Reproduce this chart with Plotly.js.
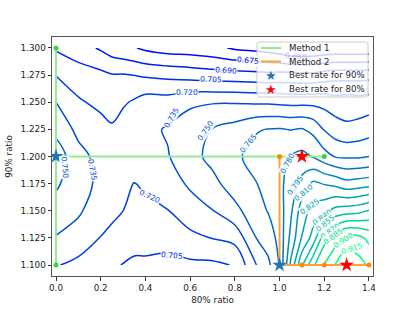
<!DOCTYPE html>
<html>
<head>
<meta charset="utf-8">
<script src="https://cdn.plot.ly/plotly-3.0.1.min.js"></script>
<style>
html,body{margin:0;padding:0;background:#fff;}
#chart{width:415px;height:311px;}
</style>
</head>
<body>
<div id="chart"></div>
<script>
// grid of the 80% ratio (x) and 90% ratio (y)
const ratio80 = [0, 0.1, 0.2, 0.25, 0.3, 0.35, 0.4, 0.5, 0.6, 0.7, 0.8, 0.9, 0.95, 1.0, 1.05, 1.1, 1.15, 1.2, 1.25, 1.3, 1.35, 1.4];
const ratio90 = [1.1, 1.125, 1.15, 1.175, 1.2, 1.225, 1.25, 1.275, 1.3];

// rate values, one array per 90% ratio row
const rate_1100 = [0.721, 0.716, 0.710, 0.707, 0.7045, 0.703, 0.702, 0.700, 0.702, 0.702, 0.706, 0.736, 0.747, 0.766, 0.813, 0.853, 0.882, 0.901, 0.916, 0.926, 0.921, 0.913];
const rate_1125 = [0.734, 0.729, 0.7195, 0.716, 0.713, 0.709, 0.711, 0.711, 0.716, 0.7205, 0.725, 0.751, 0.757, 0.770, 0.799, 0.826, 0.846, 0.879, 0.892, 0.906, 0.905, 0.896];
const rate_1150 = [0.745, 0.737, 0.727, 0.7235, 0.720, 0.714, 0.716, 0.7195, 0.729, 0.7345, 0.746, 0.759, 0.766, 0.773, 0.792, 0.818, 0.830, 0.836, 0.845, 0.848, 0.850, 0.856];
const rate_1175 = [0.752, 0.742, 0.731, 0.729, 0.726, 0.7195, 0.7225, 0.729, 0.737, 0.746, 0.757, 0.765, 0.771, 0.776, 0.787, 0.800, 0.813, 0.809, 0.806, 0.800, 0.802, 0.804];
const rate_1200 = [0.758, 0.740, 0.730, 0.7295, 0.728, 0.727, 0.729, 0.734, 0.745, 0.754, 0.762, 0.771, 0.775, 0.777, 0.781, 0.784, 0.779, 0.771, 0.764, 0.763, 0.763, 0.765];
const rate_1225 = [0.746, 0.731, 0.726, 0.7225, 0.727, 0.729, 0.731, 0.7365, 0.741, 0.7505, 0.756, 0.764, 0.7655, 0.766, 0.7645, 0.766, 0.761, 0.749, 0.742, 0.738, 0.740, 0.743];
const rate_1250 = [0.735, 0.722, 0.716, 0.712, 0.718, 0.722, 0.727, 0.727, 0.733, 0.734, 0.734, 0.733, 0.733, 0.732, 0.731, 0.731, 0.731, 0.730, 0.727, 0.728, 0.727, 0.728];
const rate_1275 = [0.7195, 0.712, 0.709, 0.706, 0.706, 0.7048, 0.703, 0.701, 0.699, 0.697, 0.696, 0.695, 0.694, 0.695, 0.695, 0.694, 0.694, 0.697, 0.699, 0.699, 0.699, 0.700];
const rate_1300 = [0.703, 0.697, 0.688, 0.682, 0.679, 0.676, 0.672, 0.668, 0.667, 0.664, 0.658, 0.655, 0.653, 0.650, 0.645, 0.645, 0.645, 0.647, 0.648, 0.648, 0.648, 0.648];

// contour levels
const levelStart = 0.660, levelEnd = 0.915, levelStep = 0.015;

// contour label values and where they sit (data coords) with their tilt
const labelLevel = [0.660, 0.675, 0.690, 0.705, 0.720, 0.735, 0.750, 0.735, 0.750, 0.765, 0.780, 0.795, 0.810, 0.825, 0.840, 0.855, 0.870, 0.885, 0.900, 0.915, 0.720, 0.705];
const labelX     = [1.073, 0.859, 0.760, 0.693, 0.586, 0.161, 0.040, 0.519, 0.671, 0.859, 1.034, 1.069, 1.109, 1.136, 1.190, 1.203, 1.225, 1.239, 1.284, 1.324, 0.420, 0.519];
const labelY     = [1.2925, 1.288, 1.2788, 1.2705, 1.2594, 1.1876, 1.190, 1.2355, 1.2235, 1.2124, 1.194, 1.1737, 1.1664, 1.1535, 1.1442, 1.1387, 1.1313, 1.1267, 1.123, 1.115, 1.1636, 1.1092];
const labelAngle = [5, 5, 4, 2, 0, 80, 85, -60, -55, -50, -62, -55, -40, -35, -35, -40, -36, -36, -33, -18, 25, 5];

// search paths
const method1LineX = [0, 0, 0, 1.2];
const method1LineY = [1.1, 1.3, 1.2, 1.2];
const method1DotsX = [0, 0, 1.2];
const method1DotsY = [1.3, 1.1, 1.2];
const method2LineX = [1.0, 1.0, 1.1, 1.2, 1.3, 1.4];
const method2LineY = [1.2, 1.1, 1.1, 1.1, 1.1, 1.1];
const method2DotsX = [1.0, 1.1, 1.2, 1.3, 1.4];
const method2DotsY = [1.2, 1.1, 1.1, 1.1, 1.1];
const best90X = [0, 1.0];
const best90Y = [1.2, 1.1];
const best80X = [1.1, 1.3];
const best80Y = [1.2, 1.1];

// legend entries
const legendNames = ['Method 1', 'Method 2', 'Best rate for 90%', 'Best rate for 80%'];

const font = 'DejaVu Sans, sans-serif';
const zGrid = [rate_1100, rate_1125, rate_1150, rate_1175, rate_1200, rate_1225, rate_1250, rate_1275, rate_1300];

const green = '#90ee90', greenDot = '#3fcf3f', orange = '#ffa033', orangeDot = '#ff8c00';
const blue = '#1f77b4', red = '#ff0000';

// winter colormap
function winter(v, alpha) {
  let t = (v - levelStart) / (levelEnd - levelStart);
  t = Math.max(0, Math.min(1, t));
  const g = Math.round(255 * t), b = Math.round(255 * (1 - 0.5 * t));
  return alpha === undefined ? `rgb(0,${g},${b})` : `rgba(0,${g},${b},${alpha})`;
}

const traces = [
  {
    type: 'contour', x: ratio80, y: ratio90, z: zGrid,
    autocontour: false,
    contours: {start: levelStart, end: levelEnd + 1e-6, size: levelStep, coloring: 'lines', showlabels: false},
    colorscale: [[0, 'rgb(0,0,255)'], [1, 'rgb(0,255,128)']],
    zmin: levelStart, zmax: levelEnd, zauto: false,
    line: {width: 1.5, smoothing: 1},
    showscale: false, showlegend: false, hoverinfo: 'skip'
  },
  {type: 'scatter', mode: 'lines', x: method1LineX, y: method1LineY, name: legendNames[0],
   line: {color: green, width: 2}, showlegend: false},
  {type: 'scatter', mode: 'markers', x: method1DotsX, y: method1DotsY, showlegend: false,
   marker: {color: greenDot, size: 5}},
  {type: 'scatter', mode: 'lines', x: method2LineX, y: method2LineY, name: legendNames[1],
   line: {color: orange, width: 2}, showlegend: false},
  {type: 'scatter', mode: 'markers', x: method2DotsX, y: method2DotsY, showlegend: false,
   marker: {color: orangeDot, size: 5}},
  {type: 'scatter', mode: 'markers', x: best90X, y: best90Y, name: legendNames[2], showlegend: false,
   marker: {symbol: 'star', color: blue, size: 11}},
  {type: 'scatter', mode: 'markers', x: best80X, y: best80Y, name: legendNames[3], showlegend: false,
   marker: {symbol: 'star', color: red, size: 11}}
];

const annotations = [];
// contour labels (inline, like matplotlib clabel)
labelLevel.forEach((lv, i) => {
  const hidden = i === 0; // the 0.660 label sits behind the legend
  annotations.push({
    x: labelX[i], y: labelY[i], xref: 'x', yref: 'y', showarrow: false,
    text: lv.toFixed(3), textangle: labelAngle[i],
    font: {family: font, size: 7.6, color: hidden ? winter(lv, 0.25) : winter(lv)},
    bgcolor: hidden ? 'rgba(0,0,0,0)' : 'rgba(255,255,255,0.9)', borderpad: 0
  });
});

// hand-built legend box (paper coordinates of the plot area), rounded corners
const L = 52, T = 37, W = 321, H = 239;
const px = v => (v - L) / W;
const py = v => (T + H - v) / H;
function roundRect(x0, y0, x1, y1, r) {
  const X0 = px(x0), X1 = px(x1), Y0 = py(y1), Y1 = py(y0);
  const rx = r / W, ry = r / H;
  return `M ${X0 + rx},${Y1} L ${X1 - rx},${Y1} Q ${X1},${Y1} ${X1},${Y1 - ry} ` +
         `L ${X1},${Y0 + ry} Q ${X1},${Y0} ${X1 - rx},${Y0} L ${X0 + rx},${Y0} ` +
         `Q ${X0},${Y0} ${X0},${Y0 + ry} L ${X0},${Y1 - ry} Q ${X0},${Y1} ${X0 + rx},${Y1} Z`;
}
const rowY = [48, 61.5, 75, 88.5];
const shapes = [
  {type: 'path', xref: 'paper', yref: 'paper', path: roundRect(257, 42, 368, 97, 2.5),
   fillcolor: 'rgba(255,255,255,0.8)', line: {color: '#cccccc', width: 1}, layer: 'above'},
  {type: 'line', xref: 'paper', yref: 'paper', x0: px(261), x1: px(281), y0: py(rowY[0]), y1: py(rowY[0]),
   line: {color: green, width: 2}, layer: 'above'},
  {type: 'line', xref: 'paper', yref: 'paper', x0: px(261), x1: px(281), y0: py(rowY[1]), y1: py(rowY[1]),
   line: {color: orange, width: 2}, layer: 'above'}
];
legendNames.forEach((n, i) => {
  annotations.push({xref: 'paper', yref: 'paper', x: px(287), y: py(rowY[i]), xanchor: 'left', yanchor: 'middle',
    text: n, showarrow: false, font: {family: font, size: 8.6, color: '#222'}});
});
annotations.push({xref: 'paper', yref: 'paper', x: px(271), y: py(rowY[2] + 0.5), xanchor: 'center', yanchor: 'middle',
  text: '★', showarrow: false, font: {family: font, size: 13, color: blue}});
annotations.push({xref: 'paper', yref: 'paper', x: px(271), y: py(rowY[3] + 0.5), xanchor: 'center', yanchor: 'middle',
  text: '★', showarrow: false, font: {family: font, size: 13, color: red}});

const layout = {
  width: 415, height: 311,
  margin: {l: 52, r: 42, t: 37, b: 35},
  paper_bgcolor: '#fff', plot_bgcolor: '#fff',
  font: {family: font, size: 8.8, color: '#222'},
  xaxis: {
    range: [-0.018, 1.418], tickvals: [0, 0.2, 0.4, 0.6, 0.8, 1.0, 1.2, 1.4],
    ticktext: ['0.0', '0.2', '0.4', '0.6', '0.8', '1.0', '1.2', '1.4'],
    ticks: 'outside', ticklen: 3.5, tickcolor: '#333', showgrid: false, zeroline: false,
    showline: true, mirror: true, linecolor: '#555', linewidth: 1,
    title: {text: '80% ratio', font: {family: font, size: 8.8, color: '#222'}, standoff: 4}
  },
  yaxis: {
    range: [1.0899, 1.3101], tickvals: [1.1, 1.125, 1.15, 1.175, 1.2, 1.225, 1.25, 1.275, 1.3],
    ticktext: ['1.100', '1.125', '1.150', '1.175', '1.200', '1.225', '1.250', '1.275', '1.300'],
    ticks: 'outside', ticklen: 3.5, tickcolor: '#333', showgrid: false, zeroline: false,
    showline: true, mirror: true, linecolor: '#555', linewidth: 1,
    title: {text: '90% ratio', font: {family: font, size: 8.8, color: '#222'}, standoff: 6}
  },
  shapes: shapes,
  annotations: annotations,
  showlegend: false
};

Plotly.newPlot('chart', traces, layout, {staticPlot: true, displayModeBar: false});
</script>
</body>
</html>
